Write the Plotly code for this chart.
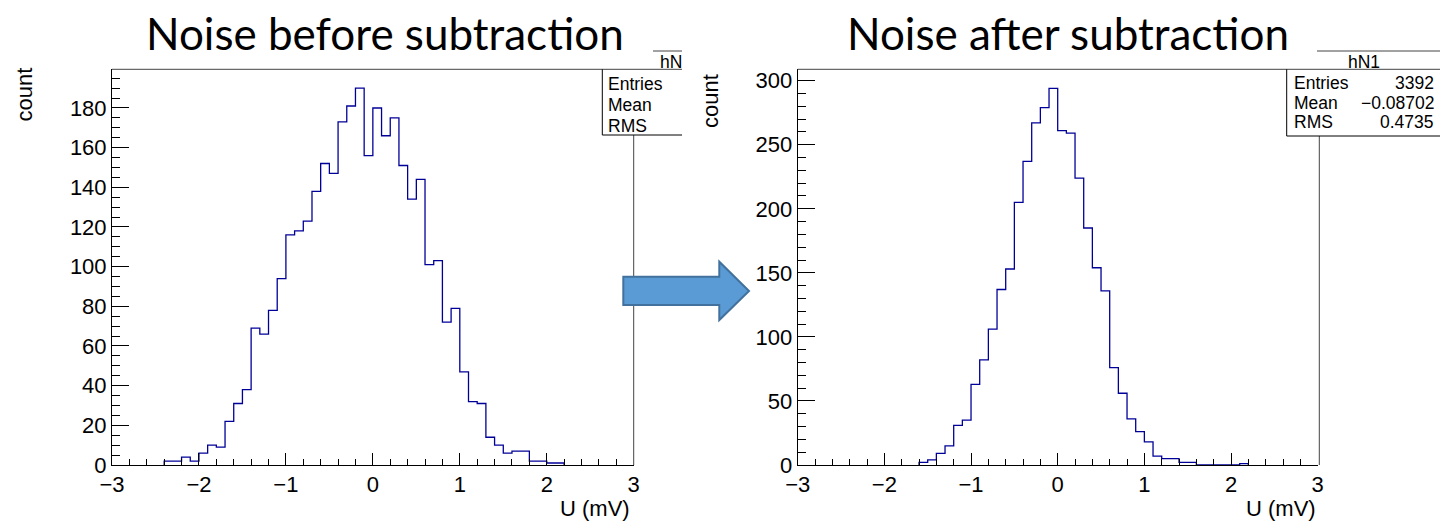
import plotly.graph_objects as go

W, H = 1440, 522

# Histogram contents, 0.1 mV bins, U in mV
bin_width = 0.1
before_first_edge = -2.4
before_counts = [2, 2, 4, 2, 6, 10, 9, 22, 31, 38, 69, 66, 78, 94, 116, 118,
                 123, 138, 152, 147, 173, 181, 190, 156, 180, 166, 175, 151,
                 134, 144, 101, 103, 72, 79, 47, 32, 31, 14, 10, 6, 7, 7, 2,
                 2, 1, 1]
after_first_edge = -1.6
after_counts = [2, 4, 9, 15, 31, 35, 63, 82, 106, 137, 153, 205, 237, 267,
                279, 294, 261, 259, 224, 185, 154, 136, 76, 56, 36, 26, 18, 7,
                5, 5, 2, 2, 0, 0, 0, 0, 0, 1]

# Axis settings
x_range = [-3, 3]
before_ymax = 199.5
after_ymax = 308.9
before_ydtick, before_yminor = 20, 5
after_ydtick, after_yminor = 50, 10

# Stats boxes
before_stats_labels = ["Entries", "Mean", "RMS"]
after_stats_labels = ["Entries", "Mean", "RMS"]
after_stats_values = ["3392", "\u22120.08702", "0.4735"]

titles = ["Noise before subtraction", "Noise after subtraction"]

LINE = "#000099"
TICK_FONT = dict(family="Liberation Sans, Arial, sans-serif", size=22, color="black")
LABEL_FONT = dict(family="Liberation Sans, Arial, sans-serif", size=22, color="black")
STAT_FONT = dict(family="Liberation Sans, Arial, sans-serif", size=17.5, color="black")
TITLE_FONT = dict(family="Lato, Open Sans, sans-serif", size=44, color="black")


def px(x):
    return x / W


def py(y):
    return 1 - y / H


def step_xy(first_edge, counts):
    edges = [round(first_edge + i * bin_width, 6) for i in range(len(counts) + 1)]
    xs = [edges[0]] + edges[:-1] + [edges[-1], edges[-1]]
    ys = [0] + list(counts) + [counts[-1], 0]
    return xs, ys


fig = go.Figure()

for idx, (first, counts) in enumerate([(before_first_edge, before_counts),
                                       (after_first_edge, after_counts)]):
    xs, ys = step_xy(first, counts)
    fig.add_trace(go.Scatter(
        x=xs, y=ys, mode="lines", line=dict(color=LINE, width=1.3, shape="hv"),
        xaxis="x" if idx == 0 else "x2", yaxis="y" if idx == 0 else "y2",
        showlegend=False, hoverinfo="skip"))

# plot frames in pixel units
L = dict(x0=112, x1=633.7, top=69.3, bottom=465)
R = dict(x0=797.7, x1=1317.7, top=69.3, bottom=465)


def xaxis_cfg(frame):
    return dict(domain=[px(frame["x0"]), px(frame["x1"])], range=x_range,
                automargin=False,
                dtick=1, tick0=0, ticks="inside", ticklen=12, tickwidth=1,
                tickcolor="black",
                minor=dict(ticks="inside", ticklen=6, dtick=0.2, tickcolor="black", tickwidth=1),
                showline=True, linecolor="black", linewidth=1, showgrid=False,
                zeroline=False, tickfont=TICK_FONT, fixedrange=True)


def yaxis_cfg(frame, ymax, dt, mdt):
    return dict(domain=[py(frame["bottom"]), py(frame["top"])], range=[0, ymax],
                automargin=False,
                dtick=dt, tick0=0, ticks="inside", ticklen=17, tickwidth=1,
                tickcolor="black",
                minor=dict(ticks="inside", ticklen=8, dtick=mdt, tickcolor="black", tickwidth=1),
                showline=True, linecolor="black", linewidth=1, showgrid=False,
                zeroline=False, tickfont=TICK_FONT, fixedrange=True)


shapes = []


def seg(x0, y0, x1, y1, color="#444444"):
    shapes.append(dict(type="line", xref="paper", yref="paper",
                       x0=px(x0), y0=py(y0), x1=px(x1), y1=py(y1),
                       line=dict(color=color, width=1)))


# left frame and clipped stats box
seg(L["x0"], L["top"], 682, L["top"])
seg(L["x1"], 135, L["x1"], L["bottom"])
seg(602.3, L["top"], 602.3, 135, "black")
seg(602.3, 135, 682, 135, "black")
seg(653, 51, 682, 51)

# right frame and stats box
seg(R["x0"], R["top"], 1440, R["top"])
seg(1319.3, 136, 1319.3, R["bottom"])
seg(1286.7, R["top"], 1286.7, 136, "black")
seg(1286.7, 136, 1440, 136, "black")
seg(1317, 51, 1440, 51)

# arrow between the panels
arrow_pts = [(623.3, 276.7), (719.3, 276.7), (719.3, 261.7), (749, 291),
             (719.3, 320), (719.3, 305), (623.3, 305)]
path = "M " + " L ".join(f"{px(a):.5f},{py(b):.5f}" for a, b in arrow_pts) + " Z"
shapes.append(dict(type="path", xref="paper", yref="paper", path=path,
                   fillcolor="#5B9BD5", line=dict(color="#41719C", width=2)))

ann = []


def text(x, y, s, font, xanchor="center", yanchor="middle", angle=0):
    ann.append(dict(x=px(x), y=py(y), xref="paper", yref="paper", text=s,
                    showarrow=False, font=font, xanchor=xanchor, yanchor=yanchor,
                    textangle=angle))


text(385, 33, titles[0], TITLE_FONT)
text(1067.5, 33, titles[1], TITLE_FONT)
text(24.5, 94, "count", LABEL_FONT, angle=-90)
text(711, 101, "count", LABEL_FONT, angle=-90)
text(632, 508, "U (mV)", LABEL_FONT, xanchor="right")
text(1318, 508, "U (mV)", LABEL_FONT, xanchor="right")

# stats box texts
text(684, 62, "hN", STAT_FONT, xanchor="right")
for i, lab in enumerate(before_stats_labels):
    text(606, 84.3 + i * 20.7, lab, STAT_FONT, xanchor="left")
text(1363.5, 62, "hN1", STAT_FONT)
for i, (lab, val) in enumerate(zip(after_stats_labels, after_stats_values)):
    yy = 83 + i * 19.5
    text(1292, yy, lab, STAT_FONT, xanchor="left")
    text(1436, yy, val, STAT_FONT, xanchor="right")

fig.update_layout(
    width=W, height=H, margin=dict(l=0, r=0, t=0, b=0),
    paper_bgcolor="white", plot_bgcolor="white",
    xaxis=dict(xaxis_cfg(L), anchor="y"),
    yaxis=dict(yaxis_cfg(L, before_ymax, before_ydtick, before_yminor), anchor="x"),
    xaxis2=dict(xaxis_cfg(R), anchor="y2"),
    yaxis2=dict(yaxis_cfg(R, after_ymax, after_ydtick, after_yminor), anchor="x2"),
    shapes=shapes, annotations=ann,
)

fig.write_html("out.html")
